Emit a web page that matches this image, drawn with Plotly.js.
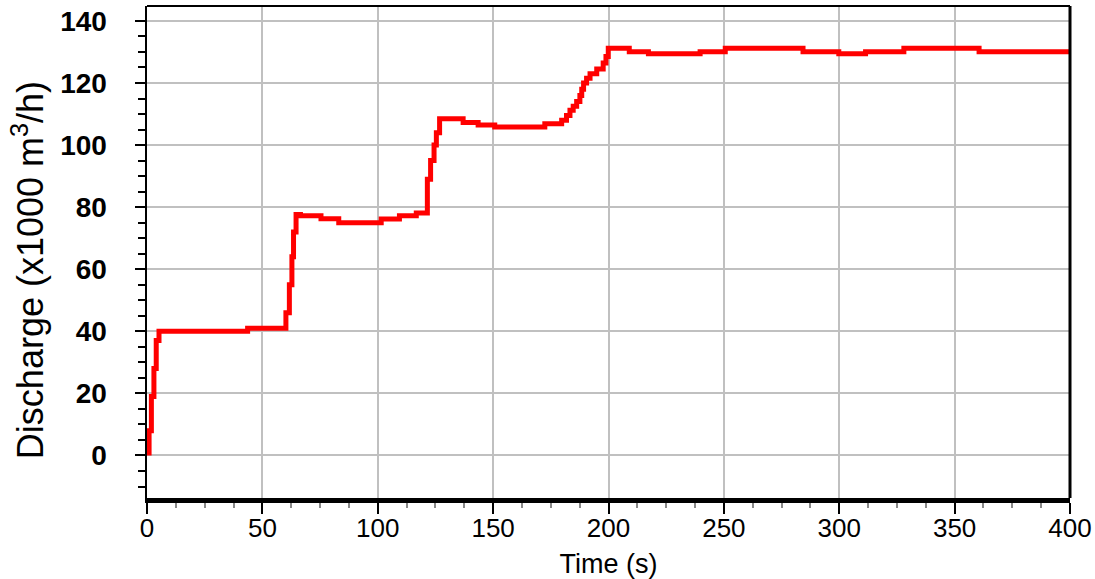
<!DOCTYPE html>
<html>
<head>
<meta charset="utf-8">
<script src="https://cdn.plot.ly/plotly-3.0.1.min.js"></script>
<style>html,body{margin:0;padding:0;background:#fff;}#chart{width:1095px;height:579px;}</style>
</head>
<body>
<div id="chart"></div>
<script>
// Time (s) and discharge (x1000 m3/h) (step curve)
const timeS = [0.9, 0.9, 1.9, 3.0, 4.0, 5.2, 43.6, 60.2, 61.7, 62.8, 63.5, 64.6, 66.5,
  75.4, 83.1, 101.5, 109.4, 116.7, 121.5, 122.9, 124.4, 125.4, 126.8, 137, 143.5, 150.7,
  172.4, 179.7, 181.8, 183.3, 184.7, 186.2, 187.6, 188.4, 189.2, 190.5, 192, 194.9, 197.7,
  198.9, 199.9, 209, 217.3, 239.7, 250.6, 284.3, 299.8, 311.4, 328, 360.6, 400];
const discharge = [0, 8, 19, 28, 37, 40, 41, 46, 55, 64, 72, 77.6, 77.2,
  76.3, 75, 76.2, 77.2, 78.1, 89, 95, 100, 104, 108.5, 107.3, 106.5, 105.8,
  106.9, 108, 109.5, 111.2, 112.5, 114, 116, 118, 120, 121.5, 123, 124.5, 126.4,
  128.5, 131.2, 130.1, 129.4, 130.1, 131.2, 130.1, 129.4, 130.1, 131.2, 130.1, 130.1];
const xTicks = [0, 50, 100, 150, 200, 250, 300, 350, 400];
const yTicks = [0, 20, 40, 60, 80, 100, 120, 140];
const xTitle = 'Time (s)';
const yTitle = 'Discharge (x1000 m<sup>3</sup>/h)';

const fontFam = 'Liberation Sans, Arial, sans-serif';
const trace = {
  x: timeS, y: discharge, type: 'scatter', mode: 'lines',
  line: {color: '#ff0000', width: 5, shape: 'hv'},
  hoverinfo: 'x+y'
};
const layout = {
  width: 1095, height: 579,
  margin: {l: 147, r: 25, t: 6, b: 81},
  paper_bgcolor: '#ffffff', plot_bgcolor: '#ffffff',
  showlegend: false,
  font: {family: fontFam, color: '#000'},
  xaxis: {
    range: [0, 400], tickvals: xTicks, ticktext: xTicks.map(String),
    showgrid: true, gridcolor: '#c0c0c0', gridwidth: 2,
    zeroline: false, showline: true, linecolor: '#000', linewidth: 5,
    ticks: 'outside', ticklen: 11, tickwidth: 2, tickcolor: '#000',
    minor: {dtick: 12.5, tick0: 0, ticks: 'outside', ticklen: 5, tickwidth: 2, tickcolor: '#888', showgrid: false},
    tickfont: {size: 26, family: fontFam, color: '#000'},
    ticklabelstandoff: -8,
    title: {text: xTitle, font: {size: 27, family: fontFam, color: '#000'}, standoff: 16},
    fixedrange: true
  },
  yaxis: {
    range: [-13.7, 144.8], tickvals: yTicks, ticktext: yTicks.map(String),
    showgrid: true, gridcolor: '#c0c0c0', gridwidth: 2,
    zeroline: false, showline: true, linecolor: '#000', linewidth: 2.5,
    ticks: 'outside', ticklen: 10, tickwidth: 2, tickcolor: '#000',
    minor: {dtick: 5, tick0: 0, ticks: 'outside', ticklen: 7, tickwidth: 2, tickcolor: '#000', showgrid: false},
    tickfont: {size: 28, family: fontFam, color: '#000', weight: 'bold'},
    ticklabelstandoff: 22,
    fixedrange: true
  },
  annotations: [
    {text: yTitle, xref: 'paper', yref: 'paper', x: -0.129, y: 0.463,
     xanchor: 'center', yanchor: 'middle', textangle: -90, showarrow: false,
     font: {size: 36, family: fontFam, color: '#000'}}
  ],
  shapes: [
    {type: 'line', xref: 'paper', yref: 'paper', x0: 0, x1: 1, y0: 1, y1: 1, line: {color: '#000', width: 2}},
    {type: 'line', xref: 'paper', yref: 'paper', x0: 1, x1: 1, y0: 0, y1: 1, line: {color: '#000', width: 3}}
  ]
};
Plotly.newPlot('chart', [trace], layout, {displayModeBar: false, staticPlot: true});
</script>
</body>
</html>
